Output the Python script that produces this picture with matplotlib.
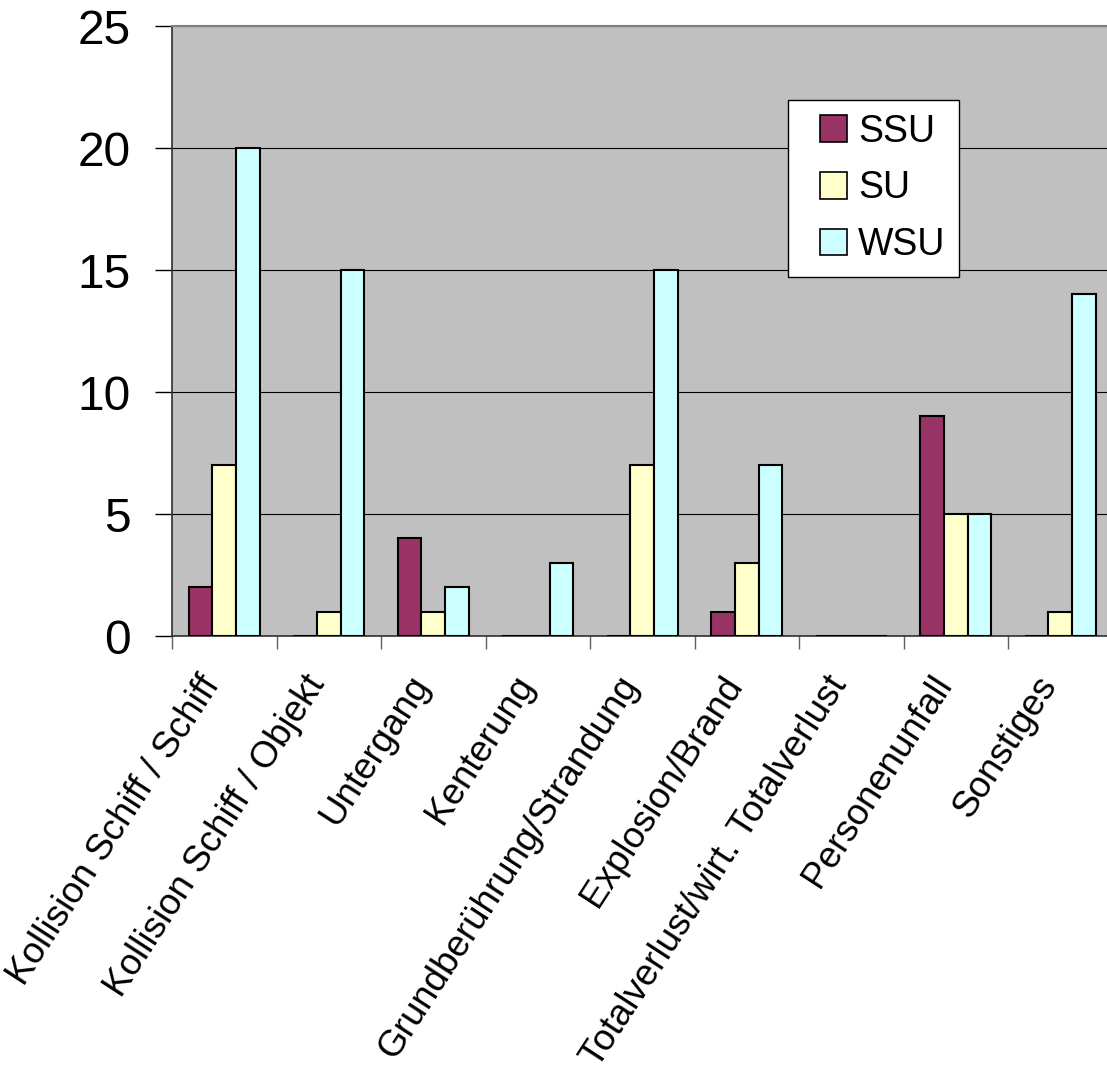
import numpy as np
import matplotlib.pyplot as plt
from matplotlib.patches import Patch, Rectangle
from matplotlib.legend_handler import HandlerPatch
from matplotlib.transforms import ScaledTranslation

plt.rcParams['font.family'] = ['Liberation Sans', 'DejaVu Sans']

# Unfallarten und Anzahl je Kategorie
kategorien = ['Kollision Schiff / Schiff', 'Kollision Schiff / Objekt', 'Untergang',
              'Kenterung', 'Grundberührung/Strandung', 'Explosion/Brand',
              'Totalverlust/wirt. Totalverlust', 'Personenunfall', 'Sonstiges']
ssu = [2, 0, 4, 0, 0, 1, 0, 9, 0]
su = [7, 1, 1, 0, 7, 3, 0, 5, 1]
wsu = [20, 15, 2, 3, 15, 7, 0, 5, 14]
reihen = ['SSU', 'SU', 'WSU']
farben = ['#993366', '#FFFFCC', '#CCFFFF']

fig = plt.figure(figsize=(11.07, 10.75), dpi=100)
ax = fig.add_axes([172 / 1107, 1 - 636 / 1075, 940.5 / 1107, 610 / 1075])
ax.set_facecolor('#C0C0C0')

x = np.arange(len(kategorien))
breite = 0.225
for i, (werte, farbe) in enumerate(zip([ssu, su, wsu], farben)):
    ax.bar(x + (i - 1) * breite, werte, breite, color=farbe,
           edgecolor='black', linewidth=1.5, zorder=3)

ax.set_xlim(-0.5, len(kategorien) - 0.5)
ax.set_ylim(0, 25)
ax.set_yticks(range(0, 26, 5))
ax.yaxis.grid(True, color='black', linewidth=0.8, zorder=1)
ax.tick_params(axis='y', labelsize=34.5, length=12, width=1, pad=18, direction='out')

# Beschriftung in der Mitte, Striche zwischen den Kategorien
ax.set_xticks(x)
ax.set_xticklabels(kategorien, rotation=57, ha='right', va='top',
                   rotation_mode='anchor', fontsize=26.5)
ax.tick_params(axis='x', which='major', length=0, pad=24)
ax.set_xticks(np.arange(-0.5, len(kategorien)), minor=True)
ax.tick_params(axis='x', which='minor', length=9, width=1, color='#606060',
               direction='out')
verschiebung = ScaledTranslation(-0.26, 0, fig.dpi_scale_trans)
for lbl in ax.get_xticklabels():
    lbl.set_transform(lbl.get_transform() + verschiebung)

for seite in ['top', 'right']:
    ax.spines[seite].set_color('#808080')
    ax.spines[seite].set_linewidth(1.5)
for seite in ['left', 'bottom']:
    ax.spines[seite].set_color('#303030')
    ax.spines[seite].set_linewidth(1.2)


# kleines Quadrat rechtsbündig im Legendenfeld
def quadrat(legend, orig_handle, xdescent, ydescent, width, height, fontsize):
    return Rectangle((-xdescent + width - height, -ydescent), height, height)


handles = [Patch(facecolor=f, edgecolor='black', linewidth=1.2) for f in farben]
leg = ax.legend(handles, reihen, loc='upper left',
                bbox_to_anchor=((788 - 172) / 940.5, (636 - 100) / 610),
                fontsize=27, frameon=True, fancybox=False, framealpha=1,
                edgecolor='black', handlelength=1.2, handleheight=0.72,
                handletextpad=0.3, labelspacing=0.55, borderpad=0.37,
                borderaxespad=0, handler_map={Patch: HandlerPatch(patch_func=quadrat)})
leg.get_frame().set_linewidth(1.0)

fig.savefig('out.png', dpi=100)
